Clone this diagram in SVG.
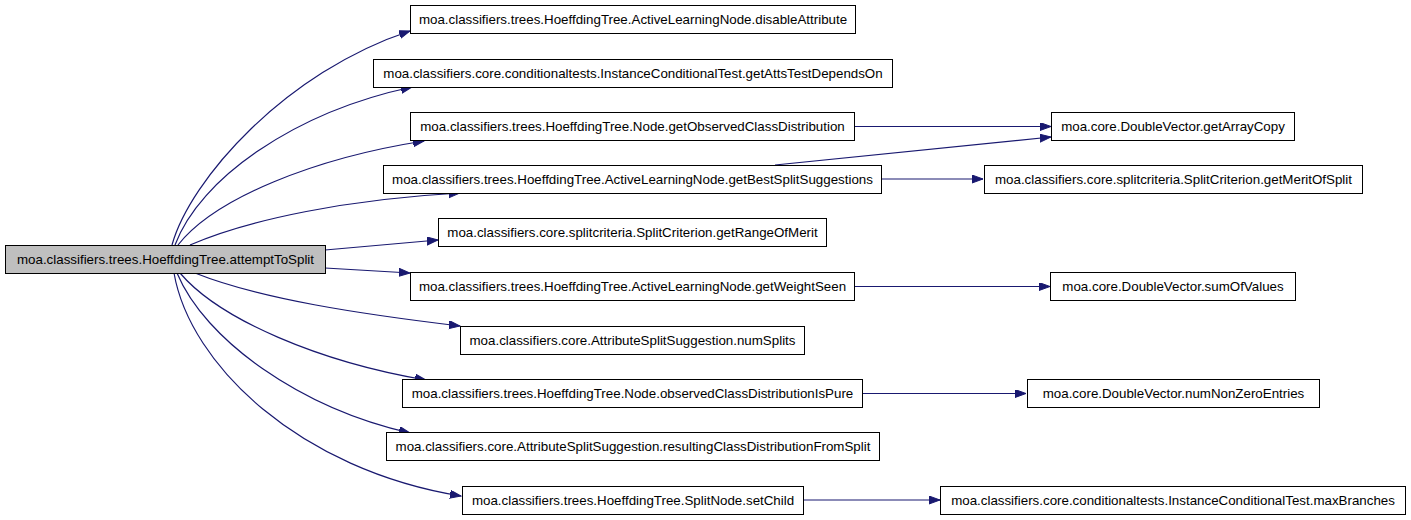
<svg xmlns="http://www.w3.org/2000/svg" width="1411" height="520" viewBox="0 0 1411 520">
<defs>
<marker id="ah" markerUnits="userSpaceOnUse" markerWidth="12" markerHeight="9" refX="11" refY="4" orient="auto">
<path d="M0,0 L11,4 L0,8 z" fill="#191970" stroke="#191970" stroke-width="1"/>
</marker>
</defs>
<style>
.n rect{fill:#ffffff;stroke:#000000;stroke-width:1}
.n.root rect{fill:#bfbfbf}
.n text{font-family:"Liberation Sans",Arial,Helvetica,sans-serif;font-size:13.33px;fill:#000000;text-anchor:middle}
.e path{fill:none;stroke:#191970;stroke-width:1.2;marker-end:url(#ah)}
</style>
<rect width="1411" height="520" fill="#ffffff"/>
<g id="connectors" class="e">
<path d="M172,245 C190,180 285,72 410,31"/>
<path d="M175,245 C200,178 295,112 412,87"/>
<path d="M178,245 C215,198 315,158 424,141"/>
<path d="M190,245 C250,219 350,199 460,193"/>
<path d="M325,250 L438,240"/>
<path d="M325,268 L410,273"/>
<path d="M195,273 C260,299 360,314 460,326"/>
<path d="M180,273 C220,320 320,362 426,380"/>
<path d="M177,273 C205,340 300,408 410,433"/>
<path d="M174,273 C190,365 300,470 461,496"/>
<path d="M855,126.5 L1051,126.5"/>
<path d="M775,165 L1051,137"/>
<path d="M882,179 L983,179"/>
<path d="M855,286.5 L1050,286.5"/>
<path d="M863,393.5 L1026,393.5"/>
<path d="M803,500 L940,500"/>
</g>
<g id="n_root" class="n root"><rect x="5.5" y="245.5" width="320" height="28"/><text x="165.5" y="264">moa.classifiers.trees.HoeffdingTree.attemptToSplit</text></g>
<g id="n_disableAttribute" class="n"><rect x="410.5" y="5.5" width="445" height="28"/><text x="633" y="24">moa.classifiers.trees.HoeffdingTree.ActiveLearningNode.disableAttribute</text></g>
<g id="n_getAttsTestDependsOn" class="n"><rect x="373.5" y="59.5" width="519" height="28"/><text x="633" y="78">moa.classifiers.core.conditionaltests.InstanceConditionalTest.getAttsTestDependsOn</text></g>
<g id="n_getObservedClassDistribution" class="n"><rect x="410.5" y="112.5" width="444" height="28"/><text x="632.5" y="131">moa.classifiers.trees.HoeffdingTree.Node.getObservedClassDistribution</text></g>
<g id="n_getBestSplitSuggestions" class="n"><rect x="383.5" y="165.5" width="498" height="28"/><text x="632.5" y="184">moa.classifiers.trees.HoeffdingTree.ActiveLearningNode.getBestSplitSuggestions</text></g>
<g id="n_getRangeOfMerit" class="n"><rect x="438.5" y="218.5" width="388" height="28"/><text x="632.5" y="237">moa.classifiers.core.splitcriteria.SplitCriterion.getRangeOfMerit</text></g>
<g id="n_getWeightSeen" class="n"><rect x="410.5" y="272.5" width="444" height="28"/><text x="632.5" y="291">moa.classifiers.trees.HoeffdingTree.ActiveLearningNode.getWeightSeen</text></g>
<g id="n_numSplits" class="n"><rect x="460.5" y="326.5" width="344" height="28"/><text x="632.5" y="345">moa.classifiers.core.AttributeSplitSuggestion.numSplits</text></g>
<g id="n_observedClassDistributionIsPure" class="n"><rect x="402.5" y="379.5" width="460" height="28"/><text x="632.5" y="398">moa.classifiers.trees.HoeffdingTree.Node.observedClassDistributionIsPure</text></g>
<g id="n_resultingClassDistributionFromSplit" class="n"><rect x="386.5" y="432.5" width="493" height="28"/><text x="633" y="451">moa.classifiers.core.AttributeSplitSuggestion.resultingClassDistributionFromSplit</text></g>
<g id="n_setChild" class="n"><rect x="462.5" y="486.5" width="341" height="28"/><text x="633" y="505">moa.classifiers.trees.HoeffdingTree.SplitNode.setChild</text></g>
<g id="n_getArrayCopy" class="n"><rect x="1051.5" y="112.5" width="243" height="28"/><text x="1173" y="131">moa.core.DoubleVector.getArrayCopy</text></g>
<g id="n_getMeritOfSplit" class="n"><rect x="984.5" y="165.5" width="378" height="28"/><text x="1173.5" y="184">moa.classifiers.core.splitcriteria.SplitCriterion.getMeritOfSplit</text></g>
<g id="n_sumOfValues" class="n"><rect x="1050.5" y="272.5" width="245" height="28"/><text x="1173" y="291">moa.core.DoubleVector.sumOfValues</text></g>
<g id="n_numNonZeroEntries" class="n"><rect x="1027.5" y="379.5" width="292" height="28"/><text x="1173.5" y="398">moa.core.DoubleVector.numNonZeroEntries</text></g>
<g id="n_maxBranches" class="n"><rect x="940.5" y="486.5" width="465" height="28"/><text x="1173" y="505">moa.classifiers.core.conditionaltests.InstanceConditionalTest.maxBranches</text></g>
</svg>
